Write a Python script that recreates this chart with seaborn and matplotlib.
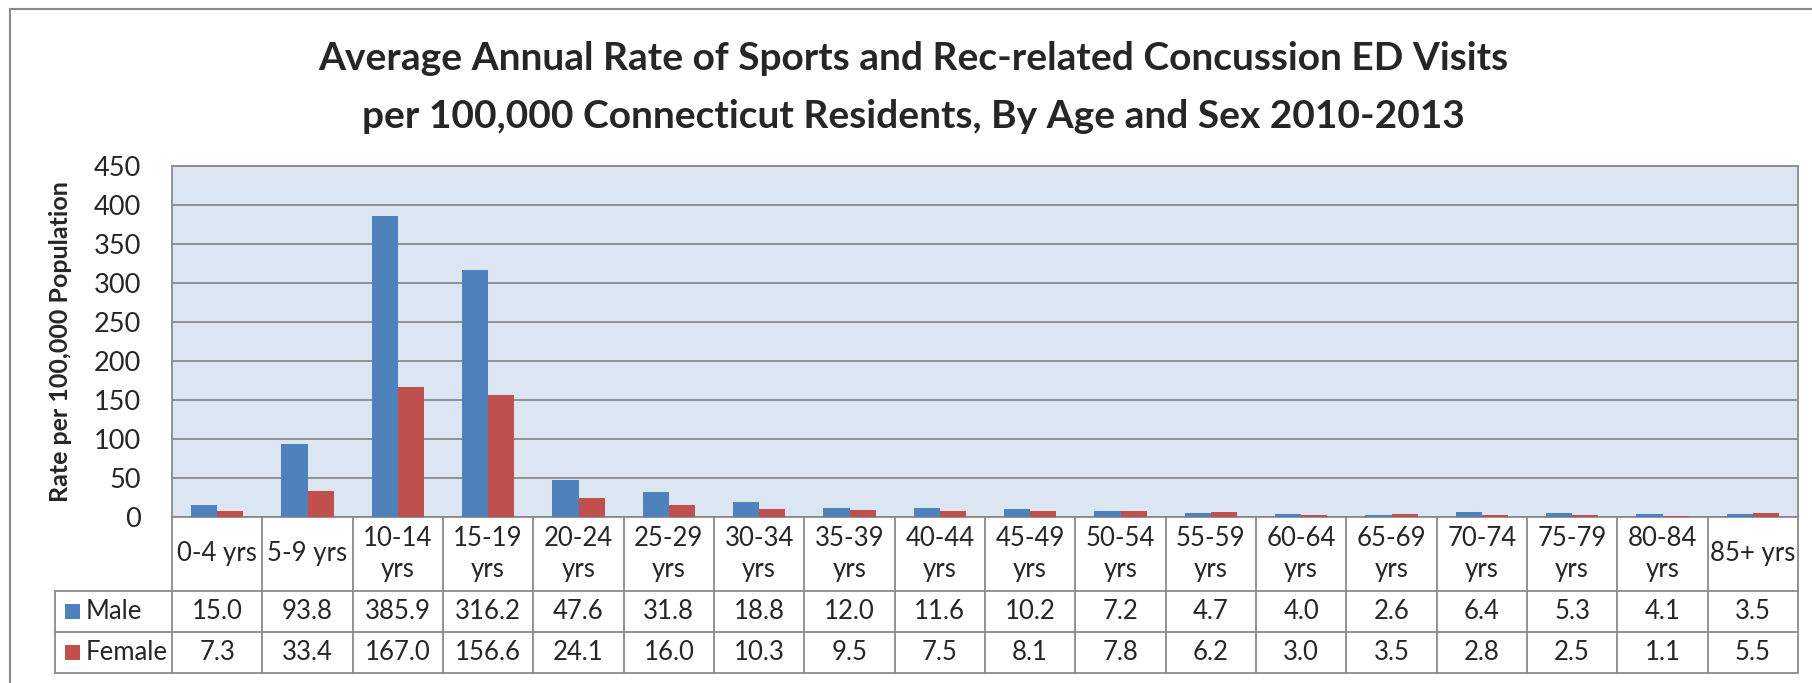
import matplotlib
matplotlib.use("Agg")
import matplotlib.pyplot as plt
import numpy as np
import pandas as pd
import seaborn as sns
from matplotlib.transforms import blended_transform_factory
from matplotlib.patches import Rectangle
from matplotlib.lines import Line2D

# ---- data ----
age_groups = ["0-4 yrs", "5-9 yrs", "10-14 yrs", "15-19 yrs", "20-24 yrs", "25-29 yrs",
              "30-34 yrs", "35-39 yrs", "40-44 yrs", "45-49 yrs", "50-54 yrs", "55-59 yrs",
              "60-64 yrs", "65-69 yrs", "70-74 yrs", "75-79 yrs", "80-84 yrs", "85+ yrs"]
male_rates = [15.0, 93.8, 385.9, 316.2, 47.6, 31.8, 18.8, 12.0, 11.6, 10.2, 7.2, 4.7,
              4.0, 2.6, 6.4, 5.3, 4.1, 3.5]
female_rates = [7.3, 33.4, 167.0, 156.6, 24.1, 16.0, 10.3, 9.5, 7.5, 8.1, 7.8, 6.2,
                3.0, 3.5, 2.8, 2.5, 1.1, 5.5]
sexes = ["Male", "Female"]
series_colors = ["#4F81BD", "#C0504D"]
y_ticks = list(range(0, 451, 50))
title_lines = ["Average Annual Rate of Sports and Rec-related Concussion ED Visits",
               "per 100,000 Connecticut Residents, By Age and Sex 2010-2013"]
y_label = "Rate per 100,000 Population"

df = pd.DataFrame({
    "Age": age_groups * 2,
    "Sex": ["Male"] * len(age_groups) + ["Female"] * len(age_groups),
    "Rate": male_rates + female_rates,
})

sns.set_style("white")
plt.rcParams["font.family"] = ["Lato", "DejaVu Sans"]

GRID = "#8A8A8A"
TXT = 18.5
W, H = 1812, 683
fig = plt.figure(figsize=(W / 100, H / 100), dpi=100)
fig.patch.set_facecolor("white")

# plot area in pixel terms
L, R, T, B = 172, 1798, 166, 517
ax = fig.add_axes([L / W, 1 - B / H, (R - L) / W, (B - T) / H])
ax.set_facecolor("#DCE6F2")

sns.barplot(data=df, x="Age", y="Rate", hue="Sex", hue_order=sexes,
            palette=series_colors, width=0.576, saturation=1, linewidth=0,
            legend=False, ax=ax, zorder=3)

ax.set_xlim(-0.5, len(age_groups) - 0.5)
ax.set_ylim(0, 450)
ax.set_yticks(y_ticks)
ax.set_yticklabels([str(v) for v in y_ticks], fontsize=19.5)
ax.tick_params(axis="y", left=False, pad=19)
ax.tick_params(axis="x", bottom=False, labelbottom=False)
ax.set_xlabel("")
ax.set_ylabel("")
ax.yaxis.grid(True, color=GRID, linewidth=1.3, zorder=1)
ax.xaxis.grid(False)
ax.set_axisbelow(True)
for s in ax.spines.values():
    s.set_color(GRID)
    s.set_linewidth(1.3)

# titles
fig.text(913 / W, 1 - 58 / H, title_lines[0], ha="center", va="center",
         fontsize=28, fontweight="bold")
fig.text(913 / W, 1 - 116 / H, title_lines[1], ha="center", va="center",
         fontsize=28, fontweight="bold")
fig.text(61 / W, 1 - ((T + B) / 2) / H, y_label, rotation=90, ha="center",
         va="center", fontsize=18, fontweight="bold")

# ---- data table below the plot area ----
ph = B - T
hdr_bot = -(591 - B) / ph
male_bot = -(632 - B) / ph
fem_bot = -(673 - B) / ph
cell_tr = blended_transform_factory(ax.transData, ax.transAxes)
fig_tr = blended_transform_factory(fig.transFigure, ax.transAxes)
n = len(age_groups)
leg_left = 55 / W

def hline(y, x0_fig, color=GRID):
    fig.add_artist(Line2D([x0_fig, R / W], [y, y], transform=fig_tr,
                          color=color, lw=1.3, clip_on=False))

for y in (hdr_bot, male_bot, fem_bot):
    hline(y, leg_left)
for i in range(n + 1):
    ax.add_line(Line2D([i - 0.5, i - 0.5], [0, fem_bot], transform=cell_tr,
                       color=GRID, lw=1.3, clip_on=False))
fig.add_artist(Line2D([leg_left, leg_left], [hdr_bot, fem_bot], transform=fig_tr,
                      color=GRID, lw=1.3, clip_on=False))

for i, lab in enumerate(age_groups):
    txt = lab if len(lab) <= 7 else lab.replace(" ", "\n")
    ax.text(i, hdr_bot / 2, txt, transform=cell_tr, ha="center", va="center",
            fontsize=TXT, linespacing=1.3, clip_on=False)
    ax.text(i, (hdr_bot + male_bot) / 2, f"{male_rates[i]:.1f}", transform=cell_tr,
            ha="center", va="center", fontsize=TXT, clip_on=False)
    ax.text(i, (male_bot + fem_bot) / 2, f"{female_rates[i]:.1f}", transform=cell_tr,
            ha="center", va="center", fontsize=TXT, clip_on=False)

for name, col, (top, bot) in zip(sexes, series_colors,
                                 [(hdr_bot, male_bot), (male_bot, fem_bot)]):
    mid = (top + bot) / 2
    sq_h = 15 / ph
    fig.add_artist(Rectangle((65 / W, mid - sq_h / 2), 15 / W, sq_h,
                             transform=fig_tr, facecolor=col, edgecolor="none"))
    t = fig.text(86 / W, 0, name, transform=fig_tr, ha="left", va="center",
                 fontsize=TXT)
    t.set_y(mid)

# chart frame
fig.add_artist(Rectangle((10 / W, -0.2), 1.5, 1 - 9 / H + 0.2,
                         transform=fig.transFigure, fill=False,
                         edgecolor=GRID, lw=1.5))

fig.savefig("out.png", dpi=100)
